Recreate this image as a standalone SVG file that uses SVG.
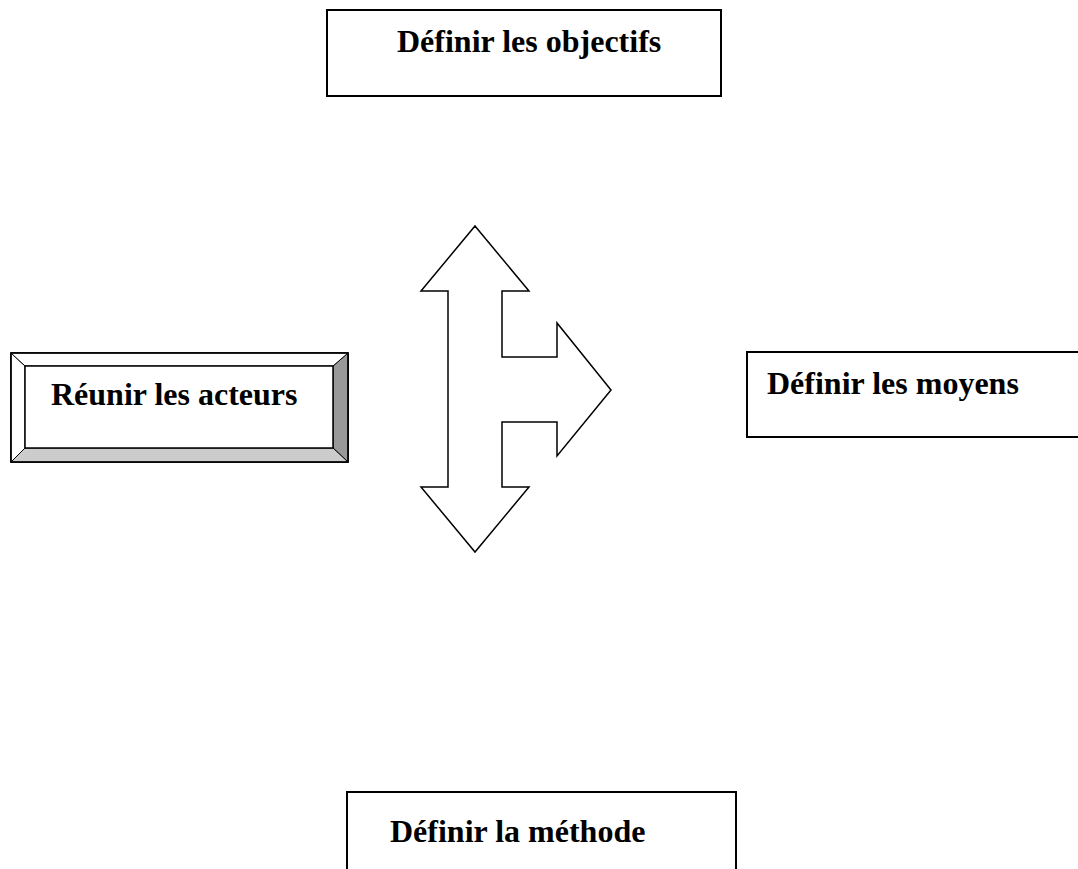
<svg xmlns="http://www.w3.org/2000/svg" width="1078" height="869" viewBox="0 0 1078 869">
<style>
.box{fill:#fff;stroke:#000;stroke-width:2}
.lbl{font-family:"Liberation Serif","Times New Roman",serif;font-weight:bold;font-size:32px;fill:#000}
.arrow{fill:#fff;stroke:#000;stroke-width:1.5;stroke-linejoin:miter}
.bev{stroke:#000;stroke-width:1}
</style>
<rect width="1078" height="869" fill="#fff"/>
<g id="objectifs">
<rect class="box" x="327" y="10" width="394" height="86"/>
<text class="lbl" x="397" y="52">Définir les objectifs</text>
</g>
<g id="acteurs">
<rect x="11" y="353" width="337" height="109" fill="#fff" stroke="#000" stroke-width="1.5"/>
<polygon class="bev" points="348,353 348,462 333,448 333,366" fill="#999"/>
<polygon class="bev" points="11,462 348,462 333,448 25,448" fill="#ccc"/>
<polygon class="bev" points="11,353 25,366 25,448 11,462" fill="#fff"/>
<polygon class="bev" points="11,353 348,353 333,366 25,366" fill="#fff"/>
<rect x="25" y="366" width="308" height="82" fill="#fff" stroke="#000" stroke-width="1.5"/>
<rect x="11" y="353" width="337" height="109" fill="none" stroke="#000" stroke-width="1.5"/>
<text class="lbl" x="51" y="405">Réunir les acteurs</text>
</g>
<g id="moyens">
<rect class="box" x="747" y="352" width="340" height="85"/>
<text class="lbl" x="767" y="394">Définir les moyens</text>
</g>
<g id="methode">
<rect class="box" x="347" y="792" width="389" height="90"/>
<text class="lbl" x="390" y="842">Définir la méthode</text>
</g>
<g id="connectors">
<path class="arrow" d="M475,226 L529,291 L502,291 L502,357 L557,357 L557,323 L611,390 L557,456 L557,422 L502,422 L502,487 L529,487 L475,552 L421,487 L448,487 L448,291 L421,291 Z"/>
</g>
</svg>
